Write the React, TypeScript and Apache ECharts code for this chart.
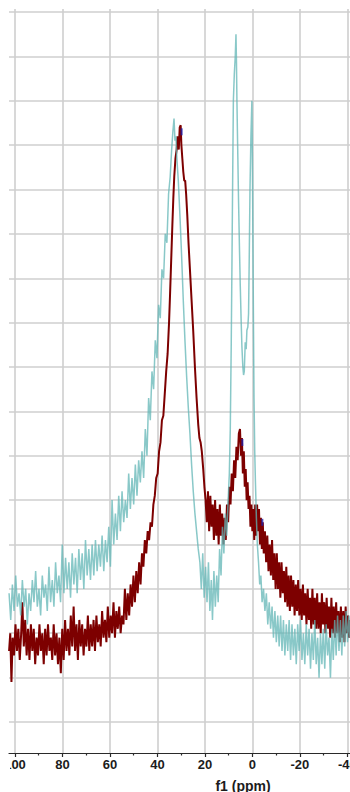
import React, { useEffect, useRef } from "react";
import * as echarts from "echarts";

// f1 (ppm) axis
const xMajorTicks = [100, 80, 60, 40, 20, 0, -20, -40];
const xMinorTicks = [90, 70, 50, 30, 10, -10, -30];
const yGridValues = [0, 1, 2, 3, 4, 5, 6, 7, 8, 9, 10, 11, 12, 13, 14, 15, 16];
const xLeft = 102.53;
const xRight = -41.14;
const yBottom = -0.699;
const yTop = 16.068;

// spectrum 1 (light teal)
const tealSpectrum: [number, number][] = [
  [102.5, 2.9], [101.8, 2.3], [101.1, 3.1], [100.4, 2.5], [99.7, 3.3], [99.0, 2.6], [98.3, 2.9], [97.6, 2.4],
  [96.9, 3.2], [96.2, 2.6], [95.5, 3.0], [94.8, 2.2], [94.1, 2.9], [93.4, 2.5], [92.7, 3.2], [92.0, 2.7],
  [91.3, 3.4], [90.6, 2.6], [89.9, 3.0], [89.2, 2.4], [88.5, 3.3], [87.8, 2.8], [87.1, 3.1], [86.4, 2.5],
  [85.7, 3.5], [85.0, 2.7], [84.3, 3.2], [83.6, 2.6], [82.9, 3.6], [82.2, 2.9], [81.5, 3.3], [80.8, 2.7],
  [80.1, 4.0], [79.4, 2.9], [78.7, 3.7], [78.0, 3.0], [77.3, 3.6], [76.6, 2.8], [75.9, 3.8], [75.2, 3.1],
  [74.5, 3.7], [73.8, 2.9], [73.1, 3.9], [72.4, 3.2], [71.7, 3.8], [71.0, 3.0], [70.3, 4.1], [69.6, 3.3],
  [68.9, 3.9], [68.2, 3.2], [67.5, 4.0], [66.8, 3.3], [66.1, 4.1], [65.4, 3.4], [64.7, 4.0], [64.0, 3.5],
  [63.3, 4.2], [62.6, 3.4], [61.9, 4.1], [61.2, 3.6], [60.5, 4.4], [59.8, 3.5], [59.1, 5.0], [58.4, 4.0],
  [57.7, 4.7], [57.0, 4.1], [56.3, 5.1], [55.6, 4.3], [54.9, 5.2], [54.2, 4.5], [53.5, 5.0], [52.8, 4.6],
  [52.1, 5.6], [51.4, 4.8], [50.7, 5.5], [50.0, 4.9], [49.3, 5.8], [48.6, 5.1], [47.9, 5.9], [47.2, 5.4],
  [46.5, 6.1], [45.8, 5.5], [45.1, 6.6], [44.4, 6.0], [43.7, 7.3], [43.0, 6.8], [42.3, 7.9], [41.6, 7.5],
  [40.9, 8.6], [40.2, 8.2], [39.5, 9.4], [38.8, 9.1], [38.1, 10.2], [37.4, 10.0], [36.7, 11.0], [36.0, 10.8],
  [35.3, 11.9], [34.6, 12.3], [34.0, 12.9], [33.5, 13.3], [33.0, 13.6], [32.6, 13.1], [32.2, 13.2], [31.8, 12.7],
  [31.2, 12.2], [30.5, 11.4], [29.8, 10.5], [29.1, 9.5], [28.4, 8.6], [27.7, 7.8], [27.0, 7.1], [26.3, 6.5],
  [25.6, 5.8], [24.9, 5.2], [24.2, 4.7], [23.5, 4.3], [22.8, 3.9], [22.1, 3.6], [21.5, 3.0], [20.9, 3.8],
  [20.3, 2.8], [19.7, 3.5], [19.1, 2.7], [18.5, 3.6], [17.9, 2.5], [17.3, 3.2], [16.8, 2.3], [16.2, 3.4],
  [15.6, 2.6], [15.0, 3.3], [14.4, 2.7], [13.8, 3.9], [13.2, 3.3], [12.6, 4.4], [12.0, 3.8], [11.4, 4.7],
  [10.8, 4.2], [10.2, 5.0], [9.7, 5.6], [9.3, 6.6], [8.9, 8.5], [8.6, 10.3], [8.3, 12.2], [8.0, 14.0],
  [7.6, 14.6], [7.2, 15.0], [6.9, 15.5], [6.7, 14.9], [6.5, 14.0], [6.2, 13.0], [5.8, 11.7], [5.4, 10.6],
  [5.1, 9.85], [4.7, 9.0], [4.4, 8.46], [4.0, 8.0], [3.7, 7.82], [3.4, 7.9], [3.0, 8.56], [2.6, 8.4],
  [2.3, 8.83], [1.9, 8.9], [1.6, 9.2], [1.3, 10.5], [1.0, 12.0], [0.6, 13.2], [0.2, 14.0], [-0.1, 12.0],
  [-0.4, 9.5], [-0.7, 7.3], [-1.0, 6.1], [-1.3, 5.4], [-1.7, 4.6], [-2.1, 4.0], [-2.6, 3.6], [-3.1, 3.1],
  [-3.6, 3.3], [-4.1, 2.7], [-4.7, 3.0], [-5.3, 2.5], [-5.9, 2.9], [-6.5, 2.2], [-7.1, 2.7], [-7.7, 2.1],
  [-8.3, 2.6], [-8.9, 1.9], [-9.5, 2.5], [-10.1, 1.8], [-10.7, 2.4], [-11.3, 1.7], [-11.9, 2.4], [-12.5, 1.6],
  [-13.1, 2.3], [-13.7, 1.5], [-14.3, 2.2], [-14.9, 1.6], [-15.5, 2.3], [-16.1, 1.4], [-16.7, 2.2], [-17.3, 1.5],
  [-17.9, 2.1], [-18.5, 1.3], [-19.1, 2.2], [-19.7, 1.6], [-20.3, 2.3], [-20.9, 1.4], [-21.5, 2.0], [-22.1, 1.3],
  [-22.7, 2.2], [-23.3, 1.5], [-23.9, 2.1], [-24.5, 1.2], [-25.1, 2.0], [-25.7, 1.4], [-26.3, 2.3], [-26.9, 1.3],
  [-27.5, 1.9], [-28.1, 1.0], [-28.7, 2.0], [-29.3, 1.3], [-29.9, 2.1], [-30.5, 1.2], [-31.1, 2.2], [-31.7, 1.5],
  [-32.3, 1.9], [-32.9, 1.0], [-33.5, 2.1], [-34.1, 1.4], [-34.7, 2.3], [-35.3, 1.5], [-35.9, 2.4], [-36.5, 1.6],
  [-37.1, 2.3], [-37.7, 1.5], [-38.3, 2.4], [-38.9, 1.7], [-39.5, 2.5], [-40.1, 1.8], [-40.7, 2.4], [-41.1, 1.9],
];

// spectrum 2 (dark red)
const redSpectrum: [number, number][] = [
  [102.5, 1.6], [102.0, 2.0], [101.5, 0.9], [101.0, 1.9], [100.4, 1.5], [99.8, 2.2], [99.2, 1.6], [98.6, 2.1],
  [98.0, 1.4], [97.4, 2.0], [96.9, 2.7], [96.3, 1.7], [95.7, 2.3], [95.1, 1.5], [94.5, 2.1], [93.9, 1.4],
  [93.3, 2.2], [92.7, 1.6], [92.1, 2.1], [91.5, 1.3], [90.9, 1.9], [90.3, 1.5], [89.7, 2.2], [89.1, 1.6],
  [88.5, 2.0], [87.9, 1.3], [87.3, 2.1], [86.7, 1.5], [86.1, 2.2], [85.5, 1.6], [84.9, 1.9], [84.3, 1.4],
  [83.7, 2.2], [83.1, 1.5], [82.5, 2.0], [81.9, 1.3], [81.3, 1.9], [80.7, 1.1], [80.1, 2.1], [79.5, 1.4],
  [78.9, 2.3], [78.3, 1.6], [77.7, 2.1], [77.1, 1.5], [76.5, 2.4], [75.9, 1.7], [75.3, 2.6], [74.7, 1.6],
  [74.1, 2.2], [73.5, 1.4], [72.9, 2.3], [72.3, 1.7], [71.7, 2.2], [71.1, 1.5], [70.5, 2.1], [69.9, 1.7],
  [69.3, 2.4], [68.7, 1.6], [68.1, 2.2], [67.5, 1.7], [66.9, 2.3], [66.3, 1.6], [65.7, 2.4], [65.1, 1.8],
  [64.5, 2.2], [63.9, 1.7], [63.3, 2.5], [62.7, 1.9], [62.1, 2.3], [61.5, 1.8], [60.9, 2.6], [60.3, 1.9],
  [59.7, 2.4], [59.1, 2.0], [58.5, 2.7], [57.9, 1.9], [57.3, 2.5], [56.7, 2.1], [56.1, 2.6], [55.5, 2.0],
  [54.9, 2.4], [54.3, 2.2], [53.7, 3.0], [53.1, 2.3], [52.5, 2.9], [51.9, 2.4], [51.3, 3.1], [50.7, 2.6],
  [50.1, 3.3], [49.5, 2.7], [48.9, 3.4], [48.3, 2.9], [47.7, 3.6], [47.1, 3.1], [46.5, 3.8], [45.9, 3.5],
  [45.3, 4.1], [44.7, 3.8], [44.1, 4.3], [43.5, 4.1], [42.9, 4.5], [42.3, 4.4], [41.7, 4.9], [41.1, 5.1],
  [40.5, 5.5], [39.9, 5.6], [39.3, 6.1], [38.7, 6.3], [38.1, 6.8], [37.5, 6.9], [36.9, 7.4], [36.3, 7.9],
  [35.7, 8.3], [35.1, 9.0], [34.7, 9.6], [34.2, 10.4], [33.7, 11.2], [33.3, 11.8], [32.9, 12.3], [32.4, 12.7],
  [31.9, 12.9], [31.5, 13.2], [31.0, 12.9], [30.6, 13.4], [30.2, 13.45], [29.9, 13.0], [29.5, 12.7], [29.1, 12.4],
  [28.7, 12.2], [28.3, 12.2], [27.9, 11.9], [27.4, 11.4], [26.9, 10.8], [26.3, 10.2], [25.6, 9.5], [24.9, 8.8],
  [24.2, 8.0], [23.5, 7.3], [22.8, 6.7], [22.3, 6.4], [21.8, 6.3], [21.3, 6.1], [20.7, 5.7], [20.2, 5.3],
  [19.7, 5.0], [19.2, 4.5], [18.7, 5.2], [18.2, 4.3], [17.7, 5.1], [17.2, 4.4], [16.7, 4.9], [16.2, 4.1],
  [15.7, 5.0], [15.2, 4.2], [14.7, 4.8], [14.2, 4.0], [13.7, 4.9], [13.2, 4.2], [12.7, 4.7], [12.2, 4.0],
  [11.7, 4.6], [11.2, 4.1], [10.7, 4.9], [10.2, 4.5], [9.7, 5.3], [9.2, 4.9], [8.7, 5.6], [8.2, 5.2],
  [7.7, 5.9], [7.2, 5.5], [6.7, 6.2], [6.2, 5.9], [5.7, 6.5], [5.2, 6.6], [4.8, 6.0], [4.4, 6.4],
  [4.0, 5.6], [3.6, 6.1], [3.2, 5.3], [2.8, 5.7], [2.4, 5.0], [2.0, 5.4], [1.6, 4.8], [1.2, 5.1],
  [0.8, 4.4], [0.4, 4.9], [0.0, 4.3], [-0.4, 4.8], [-0.8, 4.1], [-1.2, 4.9], [-1.6, 4.2], [-2.0, 4.9],
  [-2.4, 4.3], [-2.8, 4.8], [-3.2, 4.0], [-3.6, 4.6], [-4.0, 3.9], [-4.4, 4.5], [-4.8, 3.8], [-5.3, 4.3],
  [-5.8, 3.6], [-6.3, 4.2], [-6.8, 3.4], [-7.3, 4.0], [-7.8, 3.3], [-8.3, 4.1], [-8.8, 3.2], [-9.3, 3.8],
  [-9.8, 3.0], [-10.3, 3.8], [-10.8, 3.0], [-11.3, 3.6], [-11.8, 2.8], [-12.3, 3.6], [-12.8, 2.9], [-13.3, 3.4],
  [-13.8, 2.7], [-14.3, 3.5], [-14.8, 2.6], [-15.3, 3.3], [-15.8, 2.5], [-16.3, 3.3], [-16.8, 2.6], [-17.3, 3.2],
  [-17.8, 2.4], [-18.3, 3.1], [-18.8, 2.5], [-19.3, 3.2], [-19.8, 2.4], [-20.3, 3.0], [-20.8, 2.3], [-21.3, 3.1],
  [-21.8, 2.4], [-22.3, 2.9], [-22.8, 2.2], [-23.3, 3.0], [-23.8, 2.3], [-24.3, 2.8], [-24.8, 2.1], [-25.3, 3.0],
  [-25.8, 2.2], [-26.3, 2.8], [-26.8, 2.1], [-27.3, 2.9], [-27.8, 2.1], [-28.3, 2.7], [-28.8, 2.0], [-29.3, 2.9],
  [-29.8, 2.2], [-30.3, 2.7], [-30.8, 2.0], [-31.3, 2.8], [-31.8, 2.1], [-32.3, 2.6], [-32.8, 1.9], [-33.3, 2.8],
  [-33.8, 2.0], [-34.3, 2.6], [-34.8, 1.9], [-35.3, 2.7], [-35.8, 2.0], [-36.3, 2.5], [-36.8, 1.8], [-37.3, 2.6],
  [-37.8, 1.9], [-38.3, 2.5], [-38.8, 1.8], [-39.3, 2.6], [-39.8, 2.0], [-40.3, 2.4], [-40.8, 1.9], [-41.1, 2.3],
];

// picked peaks (small blue marks)
const peakMarks: [number, number][] = [
  [29.8, 13.3],
  [4.2, 6.3],
  [-4.2, 4.5],
];

const axisTitle = "f1 (ppm)";

export default function App() {
  const ref = useRef<HTMLDivElement>(null);

  useEffect(() => {
    if (!ref.current) return;
    const chart = echarts.init(ref.current, null, { renderer: "svg" });
    const gridLine = { show: true, lineStyle: { color: "#cfcfcf", width: 1.6 } };
    chart.setOption({
      animation: false,
      backgroundColor: "#ffffff",
      grid: { left: 9, right: 0, top: 9, bottom: 39, containLabel: false, outerBoundsMode: "none" },
      xAxis: [
        {
          type: "value",
          min: xRight,
          max: xLeft,
          inverse: true,
          position: "bottom",
          axisLine: { show: true, onZero: false, lineStyle: { color: "#2a2a2a", width: 1.2 } },
          axisTick: { show: true, customValues: xMajorTicks, length: 4, lineStyle: { color: "#2a2a2a", width: 1.2 } },
          axisLabel: {
            show: true,
            customValues: xMajorTicks,
            margin: 5,
            color: "#1c1c1c",
            fontFamily: "Liberation Sans",
            fontSize: 13,
            fontWeight: "bold",
            hideOverlap: false,
          },
          splitLine: gridLine,
        },
        {
          type: "value",
          min: xRight,
          max: xLeft,
          inverse: true,
          position: "bottom",
          axisLine: { show: false, onZero: false },
          axisTick: { show: true, customValues: xMinorTicks, length: 2.5, lineStyle: { color: "#2a2a2a", width: 1.2 } },
          axisLabel: { show: false },
          splitLine: { show: false },
        },
      ],
      yAxis: {
        type: "value",
        min: yBottom,
        max: yTop,
        axisLine: { show: false },
        axisLabel: { show: false },
        axisTick: { show: false, customValues: yGridValues },
        splitLine: gridLine,
      },
      series: [
        {
          type: "line",
          xAxisIndex: 0,
          data: redSpectrum,
          showSymbol: false,
          symbol: "none",
          lineStyle: { color: "#7d0000", width: 2 },
          z: 2,
        },
        {
          type: "line",
          xAxisIndex: 0,
          data: tealSpectrum,
          showSymbol: false,
          symbol: "none",
          lineStyle: { color: "#62b5b5", width: 1.5, opacity: 0.75 },
          z: 3,
        },
        {
          type: "scatter",
          xAxisIndex: 0,
          data: peakMarks,
          symbol: "rect",
          symbolSize: [2, 7],
          itemStyle: { color: "#1f1fa8" },
          z: 4,
        },
      ],
      graphic: [
        {
          type: "rect",
          left: 0,
          top: 755,
          shape: { width: 10, height: 22 },
          style: { fill: "#ffffff" },
          z: 100,
        },
        {
          type: "text",
          x: 243,
          y: 779,
          style: {
            text: axisTitle,
            fill: "#1c1c1c",
            font: "bold 14px 'Liberation Sans'",
            textAlign: "center",
            textVerticalAlign: "top",
          },
          z: 100,
        },
      ],
    });
    return () => chart.dispose();
  }, []);

  return (
    <div
      ref={ref}
      style={{ position: "absolute", left: 0, top: 0, width: 350, height: 792, background: "#fff" }}
    />
  );
}
